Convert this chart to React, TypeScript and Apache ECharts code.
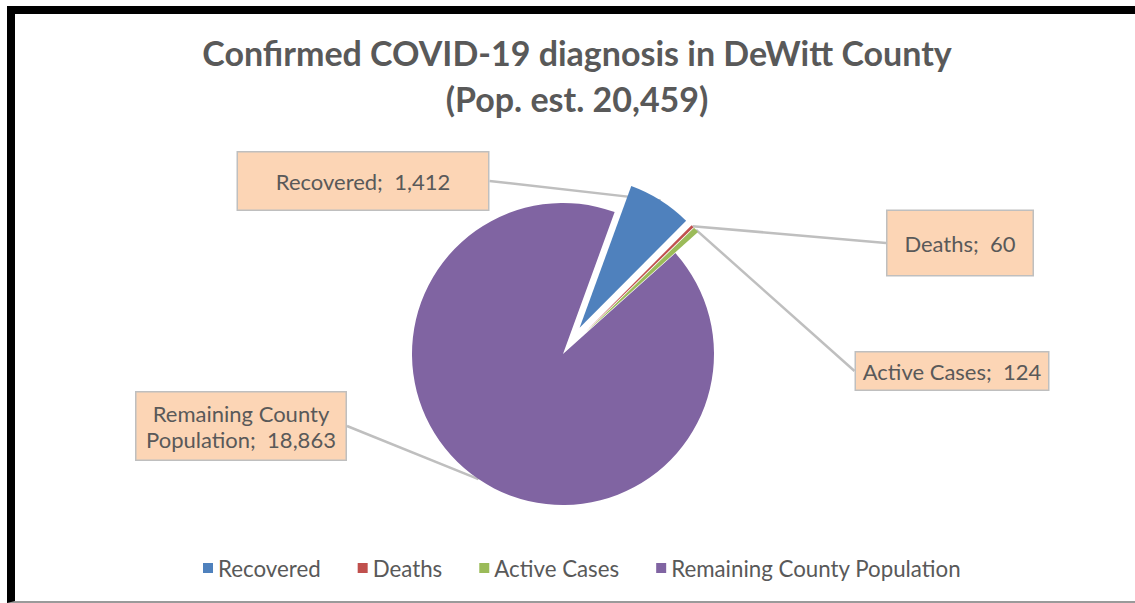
import React, { useEffect, useRef } from "react";
import * as echarts from "echarts";

const titleLines = ["Confirmed COVID-19 diagnosis in DeWitt County", "(Pop. est. 20,459)"];
const categories = ["Recovered", "Deaths", "Active Cases", "Remaining County Population"];
const labelNames = ["Recovered", "Deaths", "Active Cases", "Remaining County\nPopulation"];
const values = [1412, 60, 124, 18863];
const exploded = [true, true, true, false];
const colors = ["#4F81BD", "#C0504D", "#9BBB59", "#8064A2"];

// label box layout (positions / sizes only)
const labelBoxes = [
  { cx: 363, cy: 181, w: 250, h: 57 },
  { cx: 960, cy: 243, w: 145, h: 64 },
  { cx: 952, cy: 371, w: 192, h: 37 },
  { cx: 241, cy: 426, w: 209, h: 67 },
];

const FONT = "Lato, 'Noto Sans', sans-serif";
const fmt = (v: number) => v.toLocaleString("en-US");

const CENTER = [563, 354];
const RADIUS = 151;
const START_FROM_TOP = 20; // degrees clockwise from 12 o'clock
const EXPLODE = 31;

export default function App() {
  const ref = useRef<HTMLDivElement>(null);
  useEffect(() => {
    if (!ref.current) return;
    const chart = echarts.init(ref.current, undefined, { renderer: "svg" });
    const total = values.reduce((a, b) => a + b, 0);
    const LH = 26;
    let cum = 0;
    const series = categories.map((_, i) => {
      const startDeg = START_FROM_TOP + (cum / total) * 360;
      cum += values[i];
      const endDeg = START_FROM_TOP + (cum / total) * 360;
      const mid = ((startDeg + endDeg) / 2) * (Math.PI / 180);
      const d = exploded[i] ? EXPLODE : 0;
      const cx = CENTER[0] + d * Math.sin(mid);
      const cy = CENTER[1] - d * Math.cos(mid);
      const data = categories.map((name, j) => {
        const box = labelBoxes[j];
        const lines = labelNames[j].split("\n").length;
        const pv = (box.h - lines * LH) / 2;
        const visible = j === i;
        return {
          name,
          value: values[j],
          itemStyle: { color: visible ? colors[j] : "rgba(0,0,0,0)" },
          label: visible
            ? {
                show: true,
                formatter: `${labelNames[j]};  ${fmt(values[j])}`,
                width: box.w,
                padding: [pv, 0, pv, 0],
                lineHeight: LH,
              }
            : { show: false },
          labelLine: { show: visible },
        };
      });
      return {
        type: "pie",
        center: [cx, cy],
        radius: RADIUS,
        startAngle: 90 - START_FROM_TOP,
        clockwise: true,
        silent: true,
        avoidLabelOverlap: false,
        z: i === 3 ? 1 : 2,
        data,
        label: {
          position: "outside",
          fontFamily: FONT,
          fontSize: 22,
          color: "#595959",
          align: "center",
          backgroundColor: "#FCD5B5",
          borderColor: "#BFBFBF",
          borderWidth: 1.5,
        },
        labelLine: {
          length: 8,
          length2: 0,
          lineStyle: { color: "#BFBFBF", width: 2.5 },
        },
        labelLayout: (params: any) => {
          const b = labelBoxes[params.dataIndex];
          return { x: b.cx, y: b.cy, align: "center", verticalAlign: "middle" };
        },
        emphasis: { disabled: true },
      };
    });
    chart.setOption({
      animation: false,
      title: {
        text: titleLines.join("\n"),
        left: 572,
        top: 24,
        textAlign: "center",
        textStyle: {
          fontFamily: FONT,
          fontSize: 34,
          fontWeight: "bold",
          color: "#595959",
          lineHeight: 46,
        },
      },
      legend: {
        data: categories.map((name, i) => ({ name, itemStyle: { color: colors[i], opacity: 1 } })),
        left: 198,
        top: 552,
        icon: "rect",
        itemWidth: 10,
        itemHeight: 10,
        itemGap: 37,
        textStyle: { fontFamily: FONT, fontSize: 22.3, color: "#595959" },
        selectedMode: false,
      },
      series,
    });
    return () => chart.dispose();
  }, []);
  return (
    <div style={{ position: "fixed", left: 0, top: 0, width: 1135, height: 603, background: "#fff" }}>
      <div ref={ref} style={{ position: "absolute", left: 0, top: 0, width: 1135, height: 603 }} />
      <div
        style={{
          position: "absolute",
          left: 7,
          top: 6,
          width: 1140,
          height: 587,
          borderLeft: "8px solid #000",
          borderTop: "8px solid #000",
          borderBottom: "2px solid #9a9a9a",
          pointerEvents: "none",
        }}
      />
    </div>
  );
}
